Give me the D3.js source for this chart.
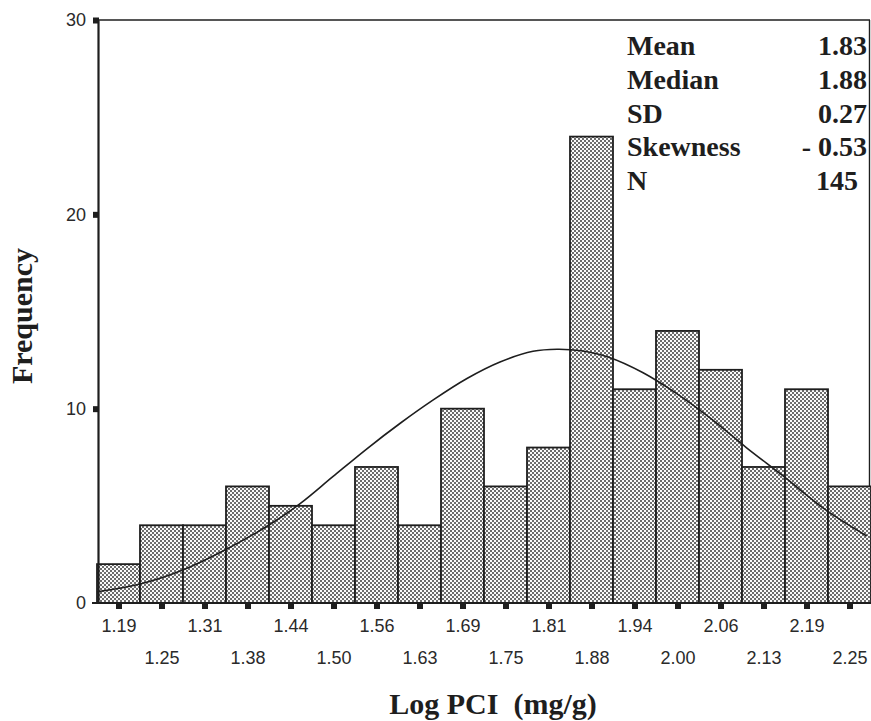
<!DOCTYPE html>
<html>
<head>
<meta charset="utf-8">
<script src="https://cdn.jsdelivr.net/npm/d3@7"></script>
<style>
  html, body { margin: 0; padding: 0; background: #fff; }
  svg { display: block; }
</style>
</head>
<body>
<svg id="chart" width="871" height="721"></svg>
<script>
// ---- data ----
const binLabels = ["1.19","1.25","1.31","1.38","1.44","1.50","1.56","1.63","1.69",
                   "1.75","1.81","1.88","1.94","2.00","2.06","2.13","2.19","2.25"];
const frequencies = [2,4,4,6,5,4,7,4,10,6,8,24,11,14,12,7,11,6];
const binStart = 1.15625;
const binWidth = 0.0625;
// fitted normal curve (x in Log PCI, y in frequency)
const curveX = [1.15625,1.219,1.281,1.345,1.408,1.451,1.499,1.549,1.597,1.645,
                1.694,1.742,1.790,1.825,1.860,1.900,1.950,2.000,2.050,2.100,2.153,2.217,2.275];
const curveY = [0.58,0.98,1.70,2.78,4.05,5.10,6.50,7.95,9.25,10.45,
                11.55,12.40,12.95,13.06,12.98,12.65,11.85,10.75,9.45,8.00,6.55,4.75,3.45];
const yTicks = [0,10,20,30];
const statLabels = ["Mean","Median","SD","Skewness","N"];
const statValues = ["1.83","1.88","0.27","- 0.53","145"];

(function () {
// ---- layout ----
const svg = d3.select("#chart");
const mLeft = 97, mRight = 871, mTop = 20, mBottom = 603;
const ink = "#1e1e1e";

const x = d3.scaleLinear().domain([binStart, binStart + binWidth * frequencies.length]).range([mLeft, mRight]);
const y = d3.scaleLinear().domain([0, 30]).range([mBottom, mTop]);

// stipple pattern
const defs = svg.append("defs");
const pat = defs.append("pattern").attr("id", "stip")
  .attr("patternUnits", "userSpaceOnUse").attr("width", 4).attr("height", 4);
pat.append("rect").attr("width", 4).attr("height", 4).attr("fill", "#fafafa");
pat.append("rect").attr("x", 0).attr("y", 0).attr("width", 2).attr("height", 2).attr("fill", "#6c6c6c");
pat.append("rect").attr("x", 2).attr("y", 2).attr("width", 2).attr("height", 2).attr("fill", "#6c6c6c");

// frame (top & right)
svg.append("line").attr("x1", mLeft).attr("x2", mRight - 1).attr("y1", mTop).attr("y2", mTop)
  .attr("stroke", ink).attr("stroke-width", 1.6);
svg.append("line").attr("x1", mRight - 1.5).attr("x2", mRight - 1.5).attr("y1", mTop).attr("y2", mBottom)
  .attr("stroke", ink).attr("stroke-width", 1.4);

// bars
svg.append("g").selectAll("rect").data(frequencies).join("rect")
  .attr("x", (d, i) => x(binStart + i * binWidth))
  .attr("width", (d, i) => x(binStart + (i + 1) * binWidth) - x(binStart + i * binWidth))
  .attr("y", d => y(d))
  .attr("height", d => y(0) - y(d))
  .attr("fill", "url(#stip)")
  .attr("stroke", ink)
  .attr("stroke-width", 1.8);

// normal curve
const pts = curveX.map((v, i) => [v, curveY[i]]);
svg.append("path").datum(pts)
  .attr("d", d3.line().x(d => x(d[0])).y(d => y(d[1])).curve(d3.curveCatmullRom.alpha(0.5)))
  .attr("fill", "none").attr("stroke", ink).attr("stroke-width", 1.6);

// x axis
const centers = frequencies.map((d, i) => binStart + (i + 0.5) * binWidth);
const xAxis = svg.append("g").attr("transform", `translate(0,${mBottom})`)
  .call(d3.axisBottom(x).tickValues(centers).tickSize(0).tickFormat((d, i) => binLabels[i]));
xAxis.select(".domain").attr("stroke", ink).attr("stroke-width", 2.2)
  .attr("d", `M${mLeft - 5},0H${mRight}`);
xAxis.selectAll(".tick").append("rect")
  .attr("x", -3).attr("y", 0).attr("width", 6).attr("height", 6).attr("fill", ink);
xAxis.selectAll(".tick text")
  .attr("font-family", "'Liberation Sans', Arial, sans-serif")
  .attr("font-size", 18).attr("fill", "#2a2a2a")
  .attr("dy", null)
  .attr("y", (d, i) => i % 2 === 0 ? 29 : 61);

// y axis
const yAxis = svg.append("g").attr("transform", `translate(${mLeft + 1},0)`)
  .call(d3.axisLeft(y).tickValues(yTicks).tickSize(0).tickPadding(12));
yAxis.select(".domain").attr("stroke", ink).attr("stroke-width", 2.2);
yAxis.selectAll(".tick").filter(d => d > 0).append("rect")
  .attr("x", -5).attr("y", -3).attr("width", 6).attr("height", 6).attr("fill", ink);
yAxis.selectAll(".tick text")
  .attr("font-family", "'Liberation Sans', Arial, sans-serif")
  .attr("font-size", 18).attr("fill", "#2a2a2a");

// axis titles
svg.append("text").attr("transform", "translate(32,316) rotate(-90)")
  .attr("text-anchor", "middle")
  .attr("font-family", "'Liberation Serif', 'Times New Roman', serif")
  .attr("font-weight", "bold").attr("font-size", 30).attr("fill", ink)
  .text("Frequency");
svg.append("text").attr("x", 493).attr("y", 714)
  .attr("text-anchor", "middle")
  .attr("font-family", "'Liberation Serif', 'Times New Roman', serif")
  .attr("font-weight", "bold").attr("font-size", 30).attr("fill", ink)
  .attr("xml:space", "preserve")
  .text("Log PCI  (mg/g)");

// stats box
const statsG = svg.append("g")
  .attr("font-family", "'Liberation Serif', 'Times New Roman', serif")
  .attr("font-weight", "bold").attr("font-size", 28).attr("fill", ink);
statLabels.forEach((s, i) => {
  statsG.append("text").attr("x", 627).attr("y", 55 + i * 33.8).text(s);
  statsG.append("text").attr("x", i === 4 ? 858 : 867).attr("y", 55 + i * 33.8)
    .attr("text-anchor", "end").text(statValues[i]);
});
})();
</script>
</body>
</html>
